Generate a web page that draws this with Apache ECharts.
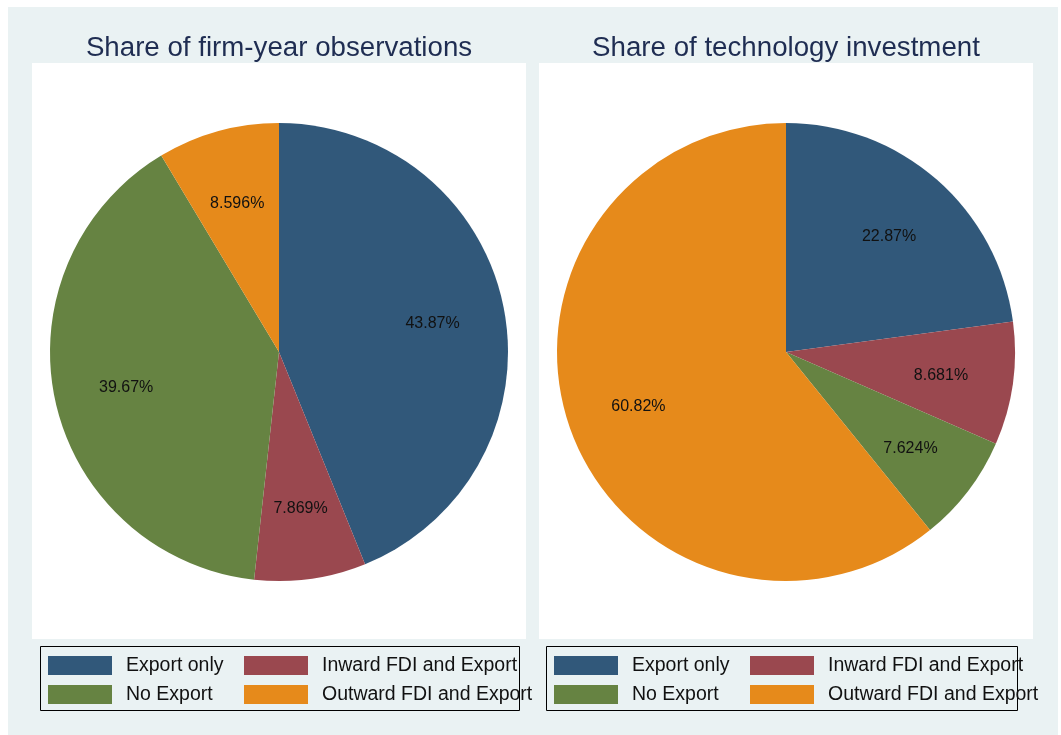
<!DOCTYPE html>
<html>
<head>
<meta charset="utf-8">
<script src="https://cdn.jsdelivr.net/npm/echarts@6/dist/echarts.min.js"></script>
<style>
html,body{margin:0;padding:0;background:#fff;}
#chart{width:1061px;height:735px;}
</style>
</head>
<body>
<div id="chart"></div>
<script>
const categories = ['Export only', 'Inward FDI and Export', 'No Export', 'Outward FDI and Export'];
const obsShare = [43.87, 7.869, 39.67, 8.596];
const techShare = [22.87, 8.681, 7.624, 60.82];
const titles = ['Share of firm-year observations', 'Share of technology investment'];
const colors = ['#31587A', '#9A484F', '#668342', '#E68A1B'];

const FONT = '"Liberation Sans", Arial, Helvetica, sans-serif';
const panels = [
  { cx: 279, cy: 352, panelX: 32, legendX: 40, values: obsShare },
  { cx: 786, cy: 352, panelX: 539, legendX: 546, values: techShare }
];

const series = [];
const legends = [];
const graphics = [
  { type: 'rect', z: -10, shape: { x: 8, y: 7, width: 1050, height: 728 }, style: { fill: '#EAF2F3' } }
];
const titleOpts = [];

panels.forEach((p, i) => {
  graphics.push({ type: 'rect', z: -9, shape: { x: p.panelX, y: 63, width: 494, height: 576 }, style: { fill: '#ffffff' } });
  graphics.push({ type: 'rect', z: -8, shape: { x: p.legendX + 0.5, y: 646.5, width: i === 0 ? 479 : 471, height: 64 }, style: { fill: 'none', stroke: '#000', lineWidth: 1 } });
  titleOpts.push({
    text: titles[i], left: p.panelX + 247, top: 34, textAlign: 'center', padding: 0,
    textStyle: { fontFamily: FONT, fontSize: 27.7, fontWeight: 'normal', color: '#1f2d52' }
  });
  series.push({
    type: 'pie', name: 'pie' + i, center: [p.cx, p.cy], radius: [0, 229],
    startAngle: 90, clockwise: true, animation: false, silent: true,
    avoidLabelOverlap: false, label: { show: false }, labelLine: { show: false },
    emphasis: { disabled: true },
    itemStyle: { borderWidth: 0 },
    data: categories.map((c, k) => ({ name: c, value: p.values[k], itemStyle: { color: colors[k] } }))
  });
  series.push({
    type: 'pie', name: 'labels' + i, center: [p.cx, p.cy + 2], radius: [78, 229],
    startAngle: 90, clockwise: true, animation: false, silent: true,
    avoidLabelOverlap: false, labelLine: { show: false },
    emphasis: { disabled: true },
    itemStyle: { color: 'rgba(0,0,0,0)', borderWidth: 0 },
    label: {
      show: true, position: 'inside', fontFamily: FONT, fontSize: 16, color: '#111',
      formatter: (d) => d.value + '%'
    },
    data: categories.map((c, k) => ({ name: c, value: p.values[k] }))
  });
  const cols = [8, 204];
  const rows = [654, 683];
  categories.forEach((c, k) => {
    legends.push({
      data: [c], left: p.legendX + cols[k % 2], top: rows[Math.floor(k / 2)],
      orient: 'horizontal', padding: 0, itemWidth: 64, itemHeight: 19, icon: 'rect',
      selectedMode: false,
      itemStyle: { borderWidth: 0 },
      textStyle: { fontFamily: FONT, fontSize: 19.5, color: '#111', padding: [0, 0, 0, 9], verticalAlign: 'middle', lineHeight: 23 }
    });
  });
});

const chart = echarts.init(document.getElementById('chart'), null, { renderer: 'canvas' });
chart.setOption({
  backgroundColor: '#ffffff',
  animation: false,
  title: titleOpts,
  legend: legends,
  graphic: graphics,
  series: series
});
</script>
</body>
</html>
